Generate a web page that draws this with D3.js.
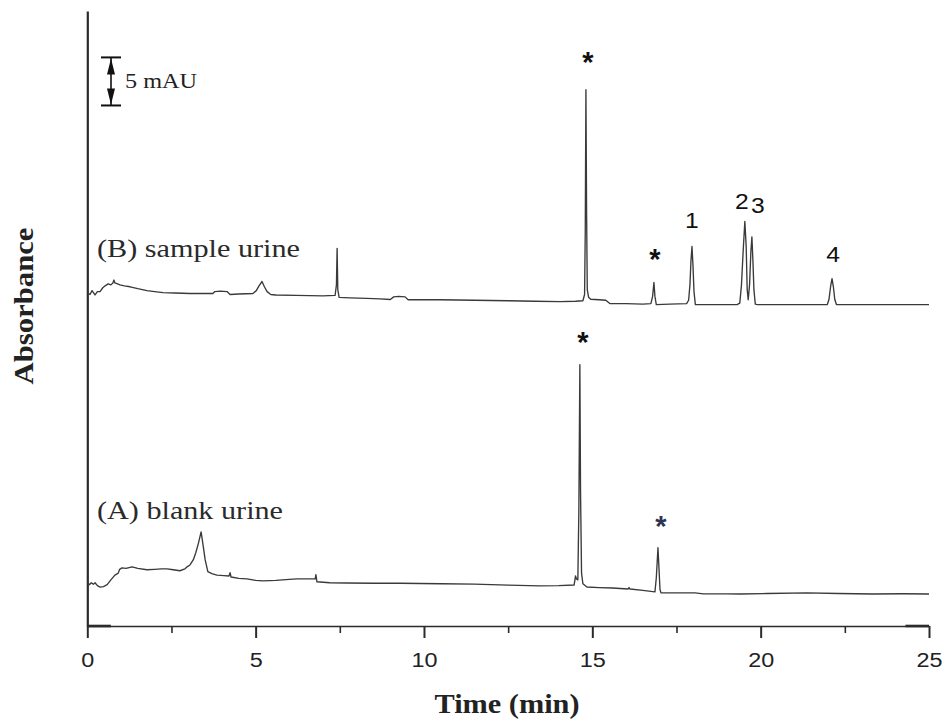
<!DOCTYPE html>
<html>
<head>
<meta charset="utf-8">
<script src="https://cdn.jsdelivr.net/npm/d3@7"></script>
<style>
  html, body { margin: 0; padding: 0; background: #fff; }
  svg { display: block; }
</style>
</head>
<body>
<svg id="chart" width="948" height="727"></svg>
<script>
// Electropherograms of urine: blank (A) and spiked sample (B).
// Each trace is [time (min), absorbance (mAU, stacked display offset included)].
const traceA = [
  [0.00,4.6],[0.06,4.3],[0.12,4.5],[0.18,4.35],[0.23,4.5],[0.30,4.2],[0.38,4.05],[0.48,4.1],
  [0.59,4.3],[0.70,4.8],[0.82,5.3],[0.92,5.5],[0.96,5.9],[1.03,6.05],[1.15,6.0],[1.33,6.15],
  [1.50,6.0],[1.77,5.85],[2.00,5.9],[2.20,5.95],[2.37,5.95],[2.55,5.85],[2.75,5.75],[2.90,5.95],
  [2.96,6.15],[3.05,6.35],[3.15,6.9],[3.22,7.6],[3.30,8.6],[3.38,9.8],[3.44,8.4],[3.50,6.9],
  [3.58,5.65],[3.70,5.45],[3.85,5.3],[4.05,5.25],[4.21,5.2],[4.24,5.55],[4.27,5.1],[4.50,4.95],
  [4.74,4.9],[5.00,4.75],[5.22,4.7],[5.60,4.75],[6.00,4.85],[6.23,4.9],[6.50,4.9],[6.77,4.9],
  [6.79,5.35],[6.82,4.6],[7.20,4.5],[7.71,4.48],[8.50,4.45],[9.28,4.45],[10.50,4.4],[11.50,4.35],
  [12.50,4.25],[13.44,4.17],[14.00,4.2],[14.46,4.27],[14.50,5.2],[14.53,4.9],[14.57,4.8],
  [14.60,12.0],[14.63,27.2],[14.65,14.0],[14.68,5.5],[14.72,4.4],[14.84,4.06],[15.20,4.0],
  [15.60,3.95],[16.06,3.85],[16.09,4.0],[16.12,3.85],[16.50,3.7],[16.86,3.55],[16.90,5.0],
  [16.95,8.15],[16.98,6.0],[17.01,3.8],[17.04,3.45],[17.50,3.45],[18.05,3.45],[18.30,3.35],
  [19.00,3.35],[19.39,3.33],[20.20,3.38],[21.38,3.44],[22.30,3.38],[23.33,3.33],[24.20,3.36],
  [25.00,3.33]
];

const traceB = [
  [0.00,34.7],[0.08,34.5],[0.14,34.9],[0.23,34.45],[0.30,34.8],[0.38,34.8],[0.46,35.2],[0.53,35.4],
  [0.62,35.6],[0.70,35.5],[0.76,35.7],[0.79,36.0],[0.82,35.7],[0.90,35.6],[0.97,35.5],[1.10,35.4],
  [1.27,35.3],[1.50,35.1],[1.77,34.9],[2.00,34.8],[2.25,34.7],[2.60,34.65],[3.05,34.6],[3.40,34.6],
  [3.73,34.6],[3.79,34.8],[3.95,34.85],[4.15,34.8],[4.24,34.5],[4.50,34.55],[4.92,34.6],[5.02,34.9],
  [5.10,35.4],[5.19,35.85],[5.26,35.3],[5.34,34.8],[5.45,34.5],[5.60,34.45],[6.20,34.4],[7.00,34.35],
  [7.36,34.4],[7.40,35.5],[7.42,39.3],[7.44,35.0],[7.48,34.2],[7.80,34.15],[8.30,34.1],[8.69,34.05],
  [9.00,33.98],[9.10,34.25],[9.25,34.3],[9.44,34.25],[9.53,33.95],[10.00,33.95],[10.47,33.95],
  [11.50,33.9],[12.50,33.85],[13.30,33.8],[14.04,33.75],[14.50,33.8],[14.72,33.85],[14.77,34.5],
  [14.79,41.0],[14.81,55.8],[14.83,43.0],[14.85,35.0],[14.89,34.2],[14.95,34.0],[15.20,33.95],
  [15.40,33.9],[15.52,33.55],[16.00,33.55],[16.50,33.5],[16.74,33.55],[16.79,34.3],[16.83,35.75],
  [16.86,34.3],[16.90,33.45],[17.30,33.5],[17.80,33.55],[17.86,33.9],[17.90,35.5],[17.93,38.0],
  [17.96,39.5],[17.99,37.5],[18.02,34.8],[18.06,33.45],[18.60,33.45],[19.30,33.45],[19.38,33.6],
  [19.43,35.5],[19.48,39.0],[19.53,42.1],[19.57,39.5],[19.60,35.0],[19.63,33.95],[19.67,35.5],
  [19.71,39.0],[19.74,40.5],[19.77,38.0],[19.80,35.0],[19.84,33.5],[19.90,33.45],[20.50,33.45],
  [21.20,33.45],[21.98,33.45],[22.03,34.0],[22.08,35.4],[22.12,36.15],[22.16,35.3],[22.20,34.0],
  [22.25,33.45],[23.00,33.45],[24.00,33.45],[25.00,33.45]
];

// Peak annotations: label text, trace, retention time of the apex
const peakLabels = [
  { text: "*", trace: "B", time: 14.81 },
  { text: "*", trace: "B", time: 16.83 },
  { text: "1", trace: "B", time: 17.96 },
  { text: "2", trace: "B", time: 19.53 },
  { text: "3", trace: "B", time: 19.74 },
  { text: "4", trace: "B", time: 22.12 },
  { text: "*", trace: "A", time: 14.63 },
  { text: "*", trace: "A", time: 16.95 }
];

const traceNames = { A: "(A) blank urine", B: "(B) sample urine" };
const majorTicks = [0, 5, 10, 15, 20, 25];
const minorTicks = [2.5, 7.5, 12.5, 17.5, 22.5];
const scaleBarMAU = 5;
const xTitle = "Time (min)";
const yTitle = "Absorbance";

// ---------------------------------------------------------------
const svg = d3.select("#chart");
const ink = "#2b2b2b";

const x = d3.scaleLinear().domain([0, 25]).range([87.3, 929]);
const y = d3.scaleLinear().domain([0, 64]).range([626, 11]);

// widen glyphs horizontally (the lettering is drawn a little expanded)
function widen(sel, f) {
  sel.each(function () {
    const len = this.getComputedTextLength();
    d3.select(this).attr("textLength", len * f).attr("lengthAdjust", "spacingAndGlyphs");
  });
}

// x axis: major ticks with labels, minor ticks without
const xAxis = svg.append("g").attr("transform", `translate(0,${y(0)})`)
  .call(d3.axisBottom(x).tickValues(majorTicks).tickSize(12).tickPadding(14.5)
        .tickSizeOuter(0).tickFormat(d3.format("d")));
xAxis.select(".domain").attr("stroke", ink).attr("stroke-width", 1.6);
xAxis.selectAll(".tick line").attr("stroke", ink).attr("stroke-width", 2);
xAxis.selectAll(".tick text")
  .attr("fill", "#222").style("font-family", "'Liberation Sans', Arial, sans-serif")
  .style("font-size", "20px");
widen(xAxis.selectAll(".tick text"), 1.17);

const xMinor = svg.append("g").attr("transform", `translate(0,${y(0)})`)
  .call(d3.axisBottom(x).tickValues(minorTicks).tickSize(7).tickSizeOuter(0).tickFormat(""));
xMinor.select(".domain").remove();
xMinor.selectAll(".tick line").attr("stroke", ink).attr("stroke-width", 1.6);

// heavier stroke at both ends of the time axis
svg.append("line").attr("x1", x(0)).attr("x2", x(0.7)).attr("y1", y(0)).attr("y2", y(0))
  .attr("stroke", ink).attr("stroke-width", 2.6);
svg.append("line").attr("x1", x(24.3)).attr("x2", x(25)).attr("y1", y(0)).attr("y2", y(0))
  .attr("stroke", ink).attr("stroke-width", 2.6);

// y axis: plain line, no ticks
const yAxis = svg.append("g").attr("transform", `translate(${x(0)},0)`)
  .call(d3.axisLeft(y).tickValues([]).tickSizeOuter(0));
yAxis.select(".domain").attr("stroke", ink).attr("stroke-width", 2.2);

// axis titles
const xt = svg.append("text").attr("x", 507).attr("y", 713).attr("text-anchor", "middle")
  .attr("fill", "#222").style("font-family", "'Liberation Serif', 'Times New Roman', serif")
  .style("font-size", "27px").style("font-weight", "bold").text(xTitle);
widen(xt, 145 / xt.node().getComputedTextLength());

const yt = svg.append("text").attr("transform", "translate(33,306) rotate(-90)")
  .attr("text-anchor", "middle").attr("fill", "#222")
  .style("font-family", "'Liberation Serif', 'Times New Roman', serif")
  .style("font-size", "28px").style("font-weight", "bold").text(yTitle);
widen(yt, 157 / yt.node().getComputedTextLength());

// traces
const line = d3.line().x(d => x(d[0])).y(d => y(d[1]));
const traces = { A: traceA, B: traceB };
Object.entries(traces).forEach(([k, data]) => {
  svg.append("path").datum(data).attr("d", line)
    .attr("fill", "none").attr("stroke", "#3a3a3a").attr("stroke-width", 1.35)
    .attr("stroke-linejoin", "round");
});

// trace names
const nameStyle = sel => sel.attr("fill", "#2a2a2a")
  .style("font-family", "'Liberation Serif', 'Times New Roman', serif").style("font-size", "26px");
const nB = svg.append("text").attr("x", 97).attr("y", 257).call(nameStyle).text(traceNames.B);
widen(nB, 203 / nB.node().getComputedTextLength());
const nA = svg.append("text").attr("x", 97).attr("y", 519).call(nameStyle).text(traceNames.A);
widen(nA, 186 / nA.node().getComputedTextLength());

// peak labels placed above each apex; for "*" the offset is to the glyph centre
const apex = (data, t) => d3.least(data, d => Math.abs(d[0] - t));
const nudges = { "B14.81": [2, -35], "B16.83": [1, -30], "B17.96": [0, -18], "B19.53": [-3, -12],
                 "B19.74": [6, -24], "B22.12": [1, -17], "A14.63": [3, -30], "A16.95": [3, -29] };
peakLabels.forEach(p => {
  const a = apex(traces[p.trace], p.time);
  const [dx, dy] = nudges[p.trace + p.time];
  const star = p.text === "*";
  const t = svg.append("text").attr("x", x(a[0]) + dx).attr("y", y(a[1]) + dy + (star ? 17 : 0))
    .attr("text-anchor", "middle")
    .attr("fill", p.trace === "A" && p.time > 16 ? "#2e3550" : "#111")
    .style("font-family", "'Liberation Sans', Arial, sans-serif")
    .style("font-size", star ? "29px" : "22px")
    .style("font-weight", star ? "bold" : "normal")
    .text(p.text);
  if (!star) widen(t, 1.12);
});

// 5 mAU scale bar with double-headed arrow
const sbX = 111, sbBase = 54.17;
const sbTop = y(sbBase + scaleBarMAU), sbBot = y(sbBase);
const sb = svg.append("g").attr("stroke", "#111").attr("fill", "#111");
sb.append("line").attr("x1", sbX - 10).attr("x2", sbX + 10).attr("y1", sbTop).attr("y2", sbTop).attr("stroke-width", 2);
sb.append("line").attr("x1", sbX - 10).attr("x2", sbX + 10).attr("y1", sbBot).attr("y2", sbBot).attr("stroke-width", 2);
sb.append("line").attr("x1", sbX).attr("x2", sbX).attr("y1", sbTop).attr("y2", sbBot).attr("stroke-width", 1.6);
sb.append("path").attr("stroke", "none")
  .attr("d", `M${sbX},${sbTop + 1} L${sbX - 4},${sbTop + 17} L${sbX + 4},${sbTop + 17} Z`);
sb.append("path").attr("stroke", "none")
  .attr("d", `M${sbX},${sbBot - 1} L${sbX - 4},${sbBot - 17} L${sbX + 4},${sbBot - 17} Z`);
const sbt = svg.append("text").attr("x", 125).attr("y", (sbTop + sbBot) / 2 + 7)
  .attr("fill", "#222").style("font-family", "'Liberation Serif', 'Times New Roman', serif")
  .style("font-size", "21px").text(`${scaleBarMAU} mAU`);
widen(sbt, 72 / sbt.node().getComputedTextLength());
</script>
</body>
</html>
